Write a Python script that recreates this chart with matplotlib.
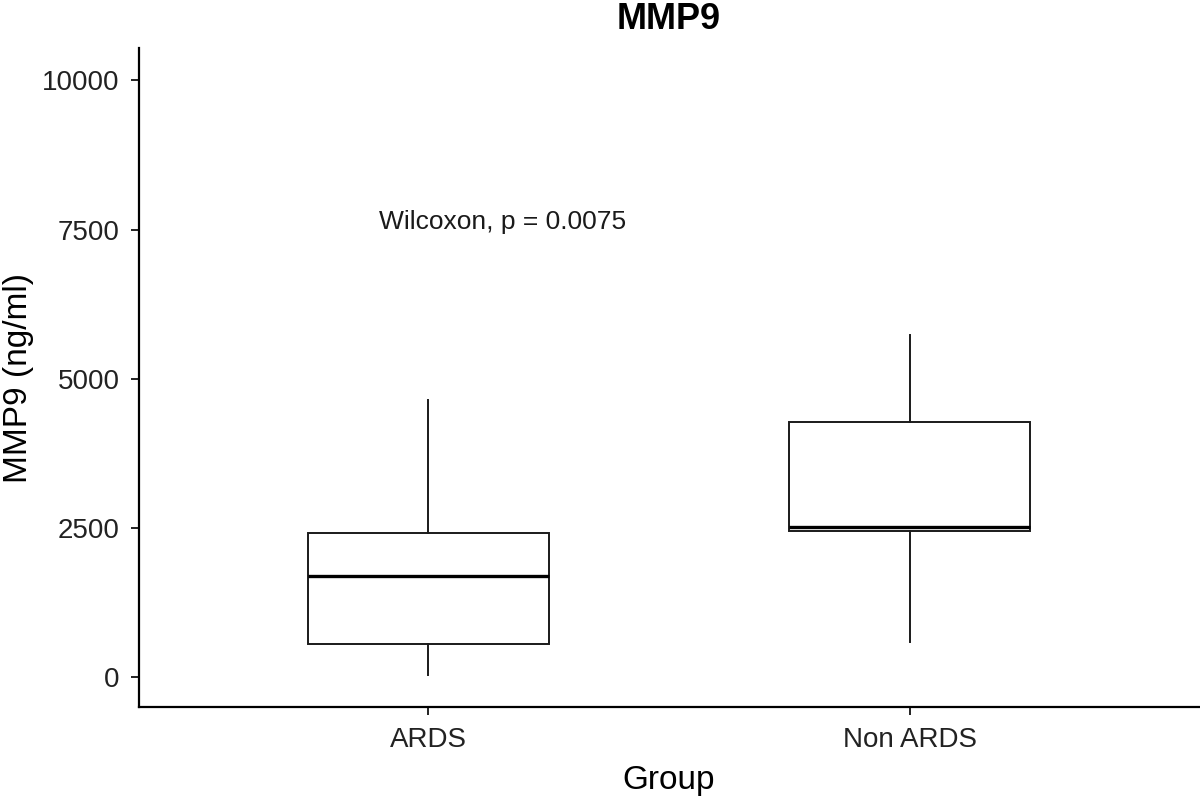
import matplotlib
matplotlib.use("Agg")
import matplotlib.pyplot as plt

plt.rcParams['font.family'] = ['Liberation Sans', 'DejaVu Sans']

groups = ["ARDS", "Non ARDS"]
whislo = [28, 577]
q1 = [548, 2439]
med = [1684, 2511]
q3 = [2405, 4267]
whishi = [4641, 5731]
yticks = [0, 2500, 5000, 7500, 10000]
title = "MMP9"
xlabel = "Group"
ylabel = "MMP9 (ng/ml)"
annotation = "Wilcoxon, p = 0.0075"

fig = plt.figure(figsize=(12, 7.96), dpi=100)
ax = fig.add_axes([139/1200, 1 - 707.3/796, 1060/1200, (707.3 - 48)/796])

stats = []
for g, lo, a, m, b, hi in zip(groups, whislo, q1, med, q3, whishi):
    stats.append(dict(label=g, whislo=lo, q1=a, med=m, q3=b, whishi=hi, fliers=[]))

positions = list(range(1, len(groups) + 1))
ax.bxp(stats, positions=positions, widths=0.5, showcaps=False, patch_artist=True,
       boxprops=dict(facecolor='white', edgecolor='#1a1a1a', linewidth=1.4),
       medianprops=dict(color='black', linewidth=2.4),
       whiskerprops=dict(color='#1a1a1a', linewidth=1.4))

ax.set_xlim(0.4, 2.6)
ax.set_ylim(-513, 10545)
ax.set_yticks(yticks)
ax.set_yticklabels([str(t) for t in yticks])
ax.set_xticks(positions)
ax.set_xticklabels(groups)

for s in ['top', 'right']:
    ax.spines[s].set_visible(False)
for s in ['left', 'bottom']:
    ax.spines[s].set_linewidth(1.6)
    ax.spines[s].set_color('black')

ax.tick_params(axis='both', length=6, width=1.4, color='#222222', labelsize=20, labelcolor='#222222')
ax.tick_params(axis='y', pad=8)
ax.tick_params(axis='x', pad=8)

ax.text(1.154, 7627, annotation, ha='center', va='center', fontsize=19, color='#1a1a1a')

ax.set_xlabel(xlabel, fontsize=24, color='black', labelpad=9)
ax.set_ylabel(ylabel, fontsize=24, color='black', labelpad=6)
ax.set_title(title, fontsize=26, fontweight='bold', pad=14)

fig.savefig("out.png", dpi=100)
